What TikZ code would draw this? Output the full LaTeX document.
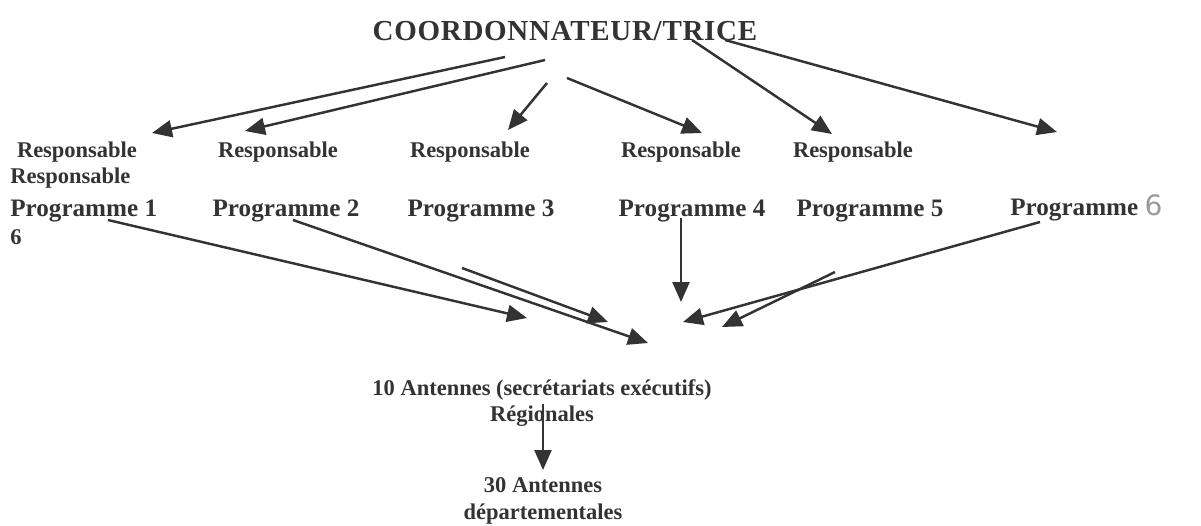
\documentclass[tikz,border=0pt]{standalone}
\usepackage{fontspec}
\setmainfont{Liberation Serif}
\usetikzlibrary{arrows.meta}
\definecolor{ink}{HTML}{333333}
\definecolor{pencil}{HTML}{9A9A9A}

\begin{document}
\begin{tikzpicture}[x=0.02cm, y=-0.02cm,
  font=\fontsize{12.8}{15}\selectfont\bfseries, text=ink,
  unit/.style={inner sep=0pt},
  prog/.style={unit, font=\fontsize{14.3}{16}\selectfont\bfseries},
  link/.style={draw=ink, line width=1.4pt, -{Triangle[length=0.4cm, width=0.34cm]}}]
\useasboundingbox (0,0) rectangle (1201,525);
% head
\node[unit, font=\fontsize{16.5}{18}\selectfont\bfseries\addfontfeature{LetterSpace=2.5}] (coord) at (565,31) {COORDONNATEUR/TRICE};
% responsables
\node[unit] (r1) at (77,152) {Responsable};
\node[unit, anchor=west] (r1b) at (10,178) {Responsable};
\node[unit] (r2) at (278,152) {Responsable};
\node[unit] (r3) at (470,152) {Responsable};
\node[unit] (r4) at (681,152) {Responsable};
\node[unit] (r5) at (853,152) {Responsable};
% programmes
\node[prog, anchor=west] (p1) at (10,211) {Programme 1};
\node[unit, anchor=west] (p1b) at (10,237) {6};
\node[prog] (p2) at (286,211) {Programme 2};
\node[prog] (p3) at (481,211) {Programme 3};
\node[prog] (p4) at (692,211) {Programme 4};
\node[prog] (p5) at (870,211) {Programme 5};
\node[prog, anchor=west] (p6) at (1010,208) {Programme {\mdseries\color{pencil}\fontspec{DejaVu Sans}\fontsize{16}{16}\selectfont 6}};
% antennes
\node[unit, align=center] (reg) at (542,403) {10 Antennes (secrétariats exécutifs)\\Régionales};
\node[unit, align=center] (dep) at (543,501) {30 Antennes\\départementales};
% free ends
\coordinate (a1) at (505,57);  \coordinate (b1) at (152,133);
\coordinate (a2) at (545,60);  \coordinate (b2) at (245,131);
\coordinate (a3) at (547,83);  \coordinate (b3) at (508,130);
\coordinate (a4) at (567,78);  \coordinate (b4) at (702,133);
\coordinate (a5) at (692,40);  \coordinate (b5) at (832,134);
\coordinate (a6) at (725,40);  \coordinate (b6) at (1057,132);
\coordinate (c1) at (108,220); \coordinate (d1) at (527,318);
\coordinate (c2) at (293,220); \coordinate (d2) at (648,343);
\coordinate (c3) at (462,268); \coordinate (d3) at (608,322);
\coordinate (c4) at (681,218); \coordinate (d4) at (681,302);
\coordinate (c6) at (1040,222); \coordinate (d6) at (683,322);
\coordinate (c5) at (835,272); \coordinate (d5) at (722,327);
\coordinate (e1) at (543,404); \coordinate (e2) at (543,470);
% arrows
\foreach \s/\t in {a1/b1, a2/b2, a3/b3, a4/b4, a5/b5, a6/b6,
                   c1/d1, c2/d2, c3/d3, c4/d4, c5/d5, c6/d6, e1/e2}
  \draw[link] (\s) -- (\t);
\end{tikzpicture}
\end{document}
